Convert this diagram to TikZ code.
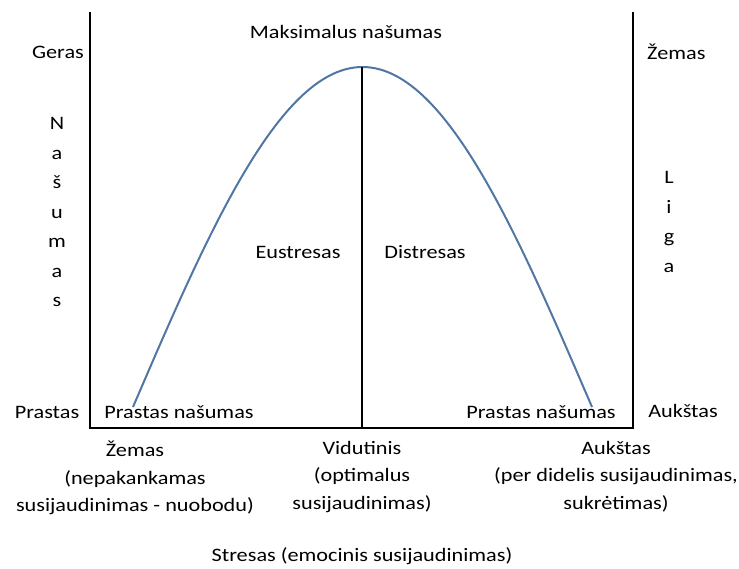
\documentclass[tikz,border=0pt]{standalone}
\usepackage{fontspec}
\setmainfont{Carlito}[FakeStretch=1.17]
\definecolor{kreive}{RGB}{80,118,164}
\tikzset{
  txt/.style={inner sep=0pt, font=\fontsize{19}{27.5}\selectfont, align=center},
  vert/.style={txt, font=\fontsize{19}{29.5}\selectfont},
  asis/.style={line width=2pt, black}
}
\begin{document}
\begin{tikzpicture}[x=1pt,y=-1pt]
\useasboundingbox (0,0) rectangle (739,568);

% asys
\coordinate (kv) at (90,12);
\coordinate (ka) at (90,428);
\coordinate (da) at (633,428);
\coordinate (dv) at (633,12);
\draw[asis] (kv) -- (ka) -- (da) -- (dv);

% kreive
\draw[kreive, line width=2pt] plot[domain=0:180, samples=90, smooth] ({133+2.55*\x}, {407-340*sin(\x)});
\coordinate (virsus) at (362,67);
\draw[asis] (virsus) -- (362,428);

%Beschriftung
\node[txt] (geras) at (58,52) {Geras};
\node[txt] (maks) at (346,32) {Maksimalus našumas};
\node[txt, anchor=west] (zemasd) at (647,52) {Žemas};
\node[vert] (nasumas) at (57,212) {N\\a\\š\\u\\m\\a\\s};
\node[vert] (liga) at (669,222) {L\\i\\g\\a};

\node[txt] (eu) at (298,252) {Eustresas};
\node[txt] (dis) at (425,252) {Distresas};

\node[txt] (prastas) at (47,412) {Prastas};
\node[txt] (prk) at (179,412) {Prastas našumas};
\node[txt] (prd) at (541,412) {Prastas našumas};
\node[txt] (aukd) at (683,411) {Aukštas};

\node[txt, anchor=north] (zemas) at (135,441) {Žemas\\(nepakankamas\\susijaudinimas - nuobodu)};
\node[txt, anchor=north] (vid) at (362,441) {Vidutinis\\(optimalus\\susijaudinimas)};
\node[txt, anchor=north] (auk) at (616,441) {Aukštas\\(per didelis susijaudinimas,\\sukrėtimas)};

\node[txt] (stresas) at (362,556) {Stresas (emocinis susijaudinimas)};
\end{tikzpicture}
\end{document}
